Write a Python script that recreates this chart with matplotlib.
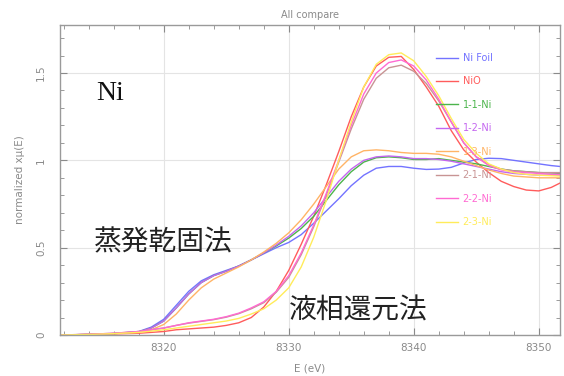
import matplotlib
matplotlib.use("Agg")
import matplotlib.pyplot as plt
from matplotlib.ticker import MultipleLocator

# energy grid (eV) shared by all spectra
energy = [8311.7, 8314, 8316, 8318, 8319, 8320, 8321, 8322, 8323, 8324,
          8325, 8326, 8327, 8328, 8329, 8330, 8331, 8332, 8333, 8334,
          8335, 8336, 8337, 8338, 8339, 8340, 8341, 8342, 8343, 8344,
          8345, 8346, 8347, 8348, 8349, 8350, 8351, 8351.7]

ni_foil = [0, 0.003, 0.008, 0.02, 0.045, 0.09, 0.17, 0.25, 0.31, 0.345,
           0.37, 0.395, 0.43, 0.465, 0.50, 0.53, 0.575, 0.64, 0.71, 0.78,
           0.855, 0.915, 0.955, 0.965, 0.965, 0.955, 0.948, 0.95, 0.96, 0.985,
           1.005, 1.012, 1.01, 1.0, 0.99, 0.98, 0.97, 0.965]
nio = [0, 0.003, 0.006, 0.01, 0.015, 0.02, 0.03, 0.035, 0.04, 0.045,
       0.055, 0.07, 0.10, 0.16, 0.25, 0.37, 0.52, 0.68, 0.86, 1.05,
       1.25, 1.42, 1.54, 1.59, 1.595, 1.52, 1.42, 1.31, 1.17, 1.06,
       0.99, 0.93, 0.88, 0.85, 0.83, 0.825, 0.845, 0.87]
s11 = [0, 0.003, 0.008, 0.018, 0.04, 0.08, 0.155, 0.235, 0.30, 0.34,
       0.365, 0.395, 0.43, 0.47, 0.51, 0.555, 0.61, 0.68, 0.77, 0.86,
       0.935, 0.99, 1.015, 1.02, 1.015, 1.005, 1.005, 1.01, 1.0, 0.99,
       0.98, 0.965, 0.95, 0.94, 0.935, 0.93, 0.928, 0.925]
s12 = [0, 0.003, 0.008, 0.018, 0.04, 0.08, 0.155, 0.235, 0.30, 0.34,
       0.365, 0.395, 0.43, 0.47, 0.515, 0.565, 0.625, 0.70, 0.79, 0.88,
       0.95, 1.0, 1.02, 1.025, 1.02, 1.01, 1.01, 1.005, 0.995, 0.98,
       0.965, 0.95, 0.935, 0.925, 0.92, 0.915, 0.915, 0.915]
s13 = [0, 0.003, 0.007, 0.015, 0.03, 0.06, 0.12, 0.2, 0.27, 0.32,
       0.355, 0.39, 0.43, 0.475, 0.525, 0.585, 0.66, 0.75, 0.85, 0.95,
       1.02, 1.055, 1.06, 1.055, 1.045, 1.04, 1.04, 1.035, 1.02, 0.995,
       0.97, 0.945, 0.925, 0.91, 0.905, 0.9, 0.9, 0.9]
s21 = [0, 0.004, 0.01, 0.02, 0.03, 0.04, 0.055, 0.068, 0.078, 0.088,
       0.102, 0.122, 0.15, 0.185, 0.245, 0.33, 0.46, 0.62, 0.80, 0.99,
       1.18, 1.35, 1.47, 1.53, 1.545, 1.51, 1.44, 1.34, 1.22, 1.1,
       1.02, 0.975, 0.95, 0.94, 0.935, 0.93, 0.93, 0.93]
s22 = [0, 0.004, 0.01, 0.02, 0.03, 0.04, 0.055, 0.07, 0.08, 0.09,
       0.105, 0.125, 0.155, 0.19, 0.25, 0.34, 0.47, 0.63, 0.81, 1.0,
       1.2, 1.38, 1.5, 1.56, 1.575, 1.54, 1.46, 1.35, 1.22, 1.1,
       1.02, 0.97, 0.945, 0.935, 0.93, 0.925, 0.92, 0.92]
s23 = [0, 0.003, 0.008, 0.015, 0.022, 0.03, 0.04, 0.05, 0.06, 0.07,
       0.08, 0.095, 0.12, 0.15, 0.20, 0.27, 0.39, 0.56, 0.77, 1.0,
       1.22, 1.42, 1.55, 1.605, 1.615, 1.57, 1.48, 1.37, 1.24, 1.12,
       1.04, 0.98, 0.95, 0.93, 0.92, 0.915, 0.912, 0.91]

labels = ["Ni Foil", "NiO", "1-1-Ni", "1-2-Ni", "1-3-Ni", "2-1-Ni", "2-2-Ni", "2-3-Ni"]
series = [ni_foil, nio, s11, s12, s13, s21, s22, s23]
colors = ["#7373ff", "#ff5c5c", "#4cb44c", "#c466f0", "#ffb466",
          "#c89494", "#ff6ad2", "#ffec5a"]

grey = "#8a8a8a"
fig = plt.figure(figsize=(5.64, 3.76), dpi=100)
ax = fig.add_axes([60 / 564, 41 / 376, 500 / 564, 310 / 376])

for vals, lab, c in zip(series, labels, colors):
    ax.plot(energy, vals, color=c, lw=1.0, label=lab)

ax.set_xlim(8311.7, 8351.7)
ax.set_ylim(0, 1.775)
ax.xaxis.set_major_locator(MultipleLocator(10))
ax.xaxis.set_minor_locator(MultipleLocator(2))
ax.yaxis.set_minor_locator(MultipleLocator(0.1))
ax.set_yticks([0, 0.5, 1, 1.5])
ax.set_yticklabels(["0", "0.5", "1", "1.5"], rotation=90, va="center")
ax.tick_params(which="both", direction="in", top=True, right=True,
               colors=grey, labelcolor=grey, labelsize=7.5)
ax.tick_params(axis="y", which="major", pad=10)
ax.tick_params(axis="x", which="major", pad=6)
ax.tick_params(which="major", length=5, width=0.8)
ax.tick_params(which="minor", length=3, width=0.6)
ax.grid(True, which="major", color="#e4e4e4", lw=0.8)
ax.set_axisbelow(True)
for sp in ax.spines.values():
    sp.set_color("#9a9a9a")
    sp.set_linewidth(1.0)

ax.set_title("All compare", fontsize=7, color=grey, pad=5)
ax.set_xlabel("E (eV)", fontsize=7.5, color=grey, labelpad=7)
ax.set_ylabel("normalized x\u03bc(E)", fontsize=7.5, color=grey, labelpad=8)

leg = ax.legend(loc="upper left", bbox_to_anchor=(0.745, 0.922), frameon=False,
                fontsize=7, labelcolor="linecolor", handlelength=2.2,
                handletextpad=0.5, labelspacing=1.38, borderaxespad=0)

ax.text(8314.6, 1.38, "Ni", fontsize=20, family="Liberation Serif",
        color="#111111", va="center")
ax.text(8314.4, 0.53, "蒸発乾固法", fontsize=20, family="Noto Sans CJK JP",
        color="#222222", va="center")
ax.text(8330.0, 0.14, "液相還元法", fontsize=20, family="Noto Sans CJK JP",
        color="#222222", va="center")

fig.savefig("out.png", dpi=100)
